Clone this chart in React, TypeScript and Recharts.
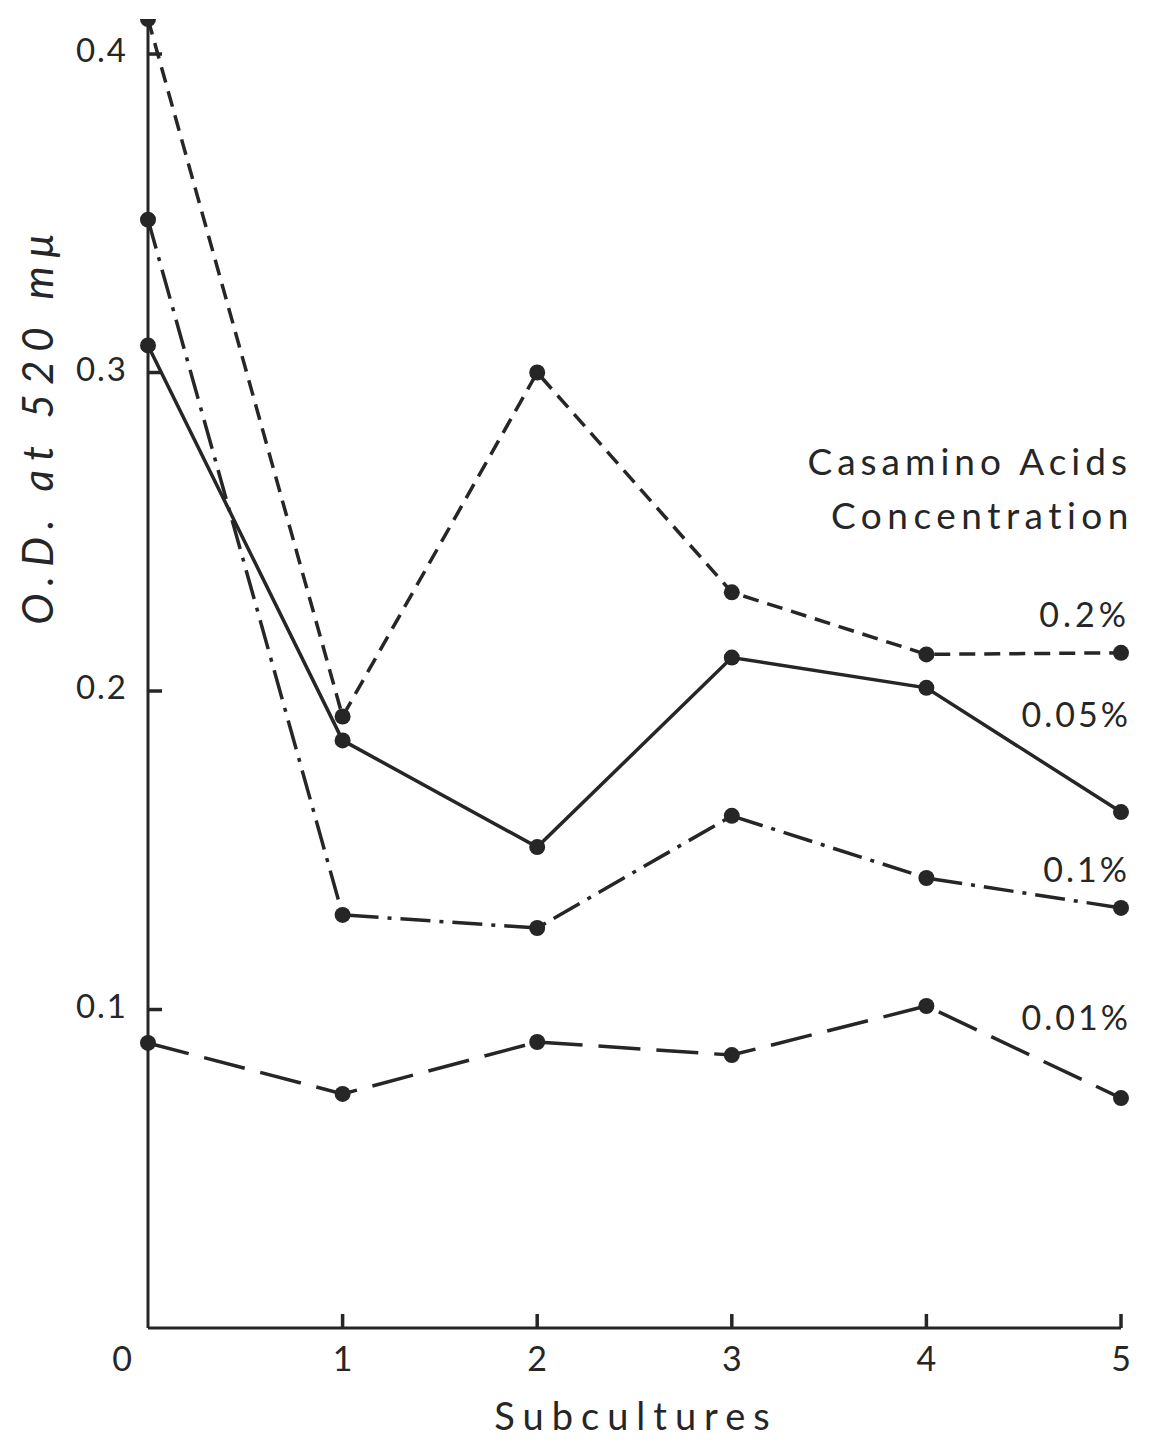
import { LineChart, Line, XAxis, YAxis, ReferenceLine } from 'recharts';

// subculture number (0 = original culture)
const subcultures = [0, 1, 2, 3, 4, 5];

// optical density at 520 mμ for each Casamino Acids concentration
const od02 = [0.411, 0.192, 0.3, 0.231, 0.2115, 0.212];
const od005 = [0.3085, 0.1845, 0.151, 0.2105, 0.201, 0.162];
const od01 = [0.348, 0.1297, 0.1256, 0.1608, 0.1413, 0.1319];
const od001 = [0.0895, 0.0735, 0.0898, 0.0857, 0.1011, 0.0722];

const yTicks = [0, 0.1, 0.2, 0.3, 0.4];
const xTicks = [1, 2, 3, 4, 5];

const data = subcultures.map((s, i) => ({
  sub: s,
  c02: od02[i],
  c005: od005[i],
  c01: od01[i],
  c001: od001[i],
}));

const INK = '#262626';
const FONT = 'Lato, "DejaVu Sans", sans-serif';

const W = 1150;
const H = 1449;
const M = { top: 19, right: 29, bottom: 0, left: 0 };
const TICK_GAP = 20; // distance between axis line and tick labels

// inward tick marks, length given in axis units (~14px each way)
const Y_TICK_DX = 0.072;
const X_TICK_DY = 0.0044;

const dot = { r: 8, fill: INK, stroke: INK, strokeWidth: 0 };

function YTick(props: any) {
  const { x, y, payload } = props;
  // the origin label sits below-left of the corner, shared by both axes
  if (payload.value === 0) {
    return (
      <text x={x - 6} y={y + 34} textAnchor="middle" dominantBaseline="middle"
        fontFamily={FONT} fontSize={34} fill={INK}>0</text>
    );
  }
  return (
    <text x={x} y={y} textAnchor="end" dominantBaseline="middle"
      fontFamily={FONT} fontSize={33} fill={INK} letterSpacing={2}>
      {payload.value.toFixed(1)}
    </text>
  );
}

function XTick(props: any) {
  const { x, y, payload } = props;
  return (
    <text x={x} y={y + 14} textAnchor="middle" dominantBaseline="middle"
      fontFamily={FONT} fontSize={34} fill={INK}>
      {payload.value}
    </text>
  );
}

export default function App() {
  return (
    <div style={{ position: 'absolute', left: 0, top: 0, width: W, height: H, background: '#fff' }}>
      <LineChart width={W} height={H} data={data} margin={M}>
        <XAxis
          dataKey="sub"
          type="number"
          domain={[0, 5]}
          ticks={xTicks}
          height={121}
          axisLine={{ stroke: INK, strokeWidth: 3 }}
          tickLine={false}
          tickSize={0}
          tickMargin={TICK_GAP}
          tick={<XTick />}
        />
        <YAxis
          type="number"
          domain={[0, 0.411]}
          ticks={yTicks}
          width={148}
          allowDataOverflow
          axisLine={{ stroke: INK, strokeWidth: 3 }}
          tickLine={false}
          tickSize={0}
          tickMargin={TICK_GAP}
          tick={<YTick />}
        />

        {yTicks.filter((v) => v > 0).map((v) => (
          <ReferenceLine key={`yt${v}`} segment={[{ x: 0, y: v }, { x: Y_TICK_DX, y: v }]}
            stroke={INK} strokeWidth={3.5} />
        ))}
        {xTicks.map((v) => (
          <ReferenceLine key={`xt${v}`} segment={[{ x: v, y: 0 }, { x: v, y: X_TICK_DY }]}
            stroke={INK} strokeWidth={3.5} />
        ))}

        <Line dataKey="c02" stroke={INK} strokeWidth={3.5} strokeDasharray="16 9"
          dot={dot} activeDot={false} isAnimationActive={false} />
        <Line dataKey="c005" stroke={INK} strokeWidth={3.5}
          dot={dot} activeDot={false} isAnimationActive={false} />
        <Line dataKey="c01" stroke={INK} strokeWidth={3.5} strokeDasharray="30 9 4 9"
          dot={dot} activeDot={false} isAnimationActive={false} />
        <Line dataKey="c001" stroke={INK} strokeWidth={3.5} strokeDasharray="42 16"
          dot={dot} activeDot={false} isAnimationActive={false} />

        <text x={42} y={425} transform="rotate(-90 42 425)" textAnchor="middle"
          dominantBaseline="middle" fontFamily={FONT} fontStyle="italic"
          fontSize={42} fill={INK} letterSpacing={9}>O.D. at 520 mμ</text>
        <text x={636} y={1420} textAnchor="middle" dominantBaseline="middle"
          fontFamily={FONT} fontSize={38} fill={INK} letterSpacing={8}>Subcultures</text>

        <text x={1132} y={466} textAnchor="end" dominantBaseline="middle"
          fontFamily={FONT} fontSize={37} fill={INK} letterSpacing={5}>Casamino Acids</text>
        <text x={1134} y={520} textAnchor="end" dominantBaseline="middle"
          fontFamily={FONT} fontSize={37} fill={INK} letterSpacing={5.5}>Concentration</text>
        <text x={1130} y={618} textAnchor="end" dominantBaseline="middle"
          fontFamily={FONT} fontSize={34} fill={INK} letterSpacing={4}>0.2%</text>
        <text x={1131} y={718} textAnchor="end" dominantBaseline="middle"
          fontFamily={FONT} fontSize={34} fill={INK} letterSpacing={3}>0.05%</text>
        <text x={1130} y={873} textAnchor="end" dominantBaseline="middle"
          fontFamily={FONT} fontSize={34} fill={INK} letterSpacing={3}>0.1%</text>
        <text x={1131} y={1021} textAnchor="end" dominantBaseline="middle"
          fontFamily={FONT} fontSize={34} fill={INK} letterSpacing={3}>0.01%</text>
      </LineChart>
    </div>
  );
}
